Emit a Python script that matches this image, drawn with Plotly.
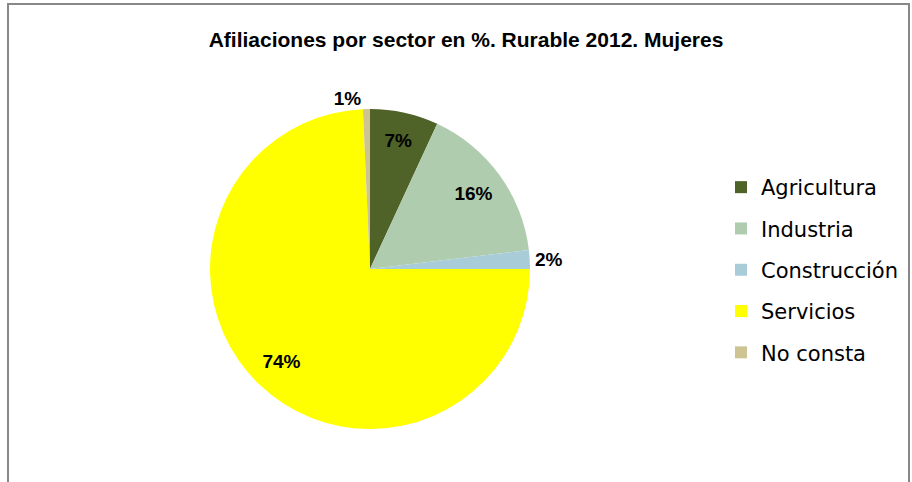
import plotly.graph_objects as go

# Data
sectores = ["Agricultura", "Industria", "Construcción", "Servicios", "No consta"]
porcentajes = [6.9, 16.2, 1.9, 74.3, 0.7]
etiquetas = ["7%", "16%", "2%", "74%", "1%"]
colores = ["#4F6228", "#B0CCAF", "#A9CDD8", "#FFFF00", "#CEC393"]
posiciones = ["inside", "inside", "outside", "inside", "outside"]

W, H = 912, 482
dominio = dict(x=[210 / W, 530 / W], y=[(H - 429) / H, (H - 109) / H])

fig = go.Figure()

# coloured slices
fig.add_trace(go.Pie(
    labels=sectores,
    values=porcentajes,
    textinfo="none",
    marker=dict(colors=colores, line=dict(width=0)),
    sort=False,
    direction="clockwise",
    rotation=0,
    domain=dominio,
    showlegend=False,
    hoverinfo="label+percent",
))

# transparent ring on top, only to place the percentage labels towards the rim
fig.add_trace(go.Pie(
    labels=sectores,
    values=porcentajes,
    text=etiquetas,
    textinfo="text",
    textposition=posiciones,
    insidetextorientation="horizontal",
    textfont=dict(family="Liberation Sans, Arial", size=19, color="black", weight="bold"),
    marker=dict(colors=["rgba(0,0,0,0)"] * len(sectores), line=dict(width=0)),
    hole=0.6,
    sort=False,
    direction="clockwise",
    rotation=0,
    domain=dominio,
    showlegend=False,
    hoverinfo="skip",
))

# legend entries
for nombre, color in zip(sectores, colores):
    fig.add_trace(go.Scatter(
        x=[None], y=[None], mode="markers", name=nombre,
        legendgroup=nombre,
        marker=dict(symbol="square", size=10, color=color),
    ))

fig.update_layout(
    width=W,
    height=H,
    margin=dict(l=0, r=0, t=0, b=0),
    paper_bgcolor="white",
    plot_bgcolor="white",
    xaxis=dict(visible=False),
    yaxis=dict(visible=False),
    uniformtext=dict(minsize=19, mode="show"),
    title=dict(
        text="<b>Afiliaciones por sector en %. Rurable 2012. Mujeres</b>",
        x=466 / W, xanchor="center",
        y=1 - 40 / H, yanchor="middle",
        font=dict(family="Liberation Sans, Arial", size=21, color="black"),
    ),
    legend=dict(
        x=721 / W, xanchor="left",
        y=1 - 167 / H, yanchor="top",
        font=dict(family="DejaVu Sans, Verdana", size=21, color="black"),
        itemsizing="constant",
        tracegroupgap=11,
        traceorder="grouped",
        bgcolor="rgba(0,0,0,0)",
    ),
    showlegend=True,
    shapes=[dict(
        type="rect", xref="paper", yref="paper",
        x0=8 / W, x1=909 / W, y0=-0.05, y1=1 - 4 / H,
        line=dict(color="#888888", width=2),
    )],
)

fig.write_html("out.html", config={"displayModeBar": False},
               post_script="document.body.style.margin='0px';")
